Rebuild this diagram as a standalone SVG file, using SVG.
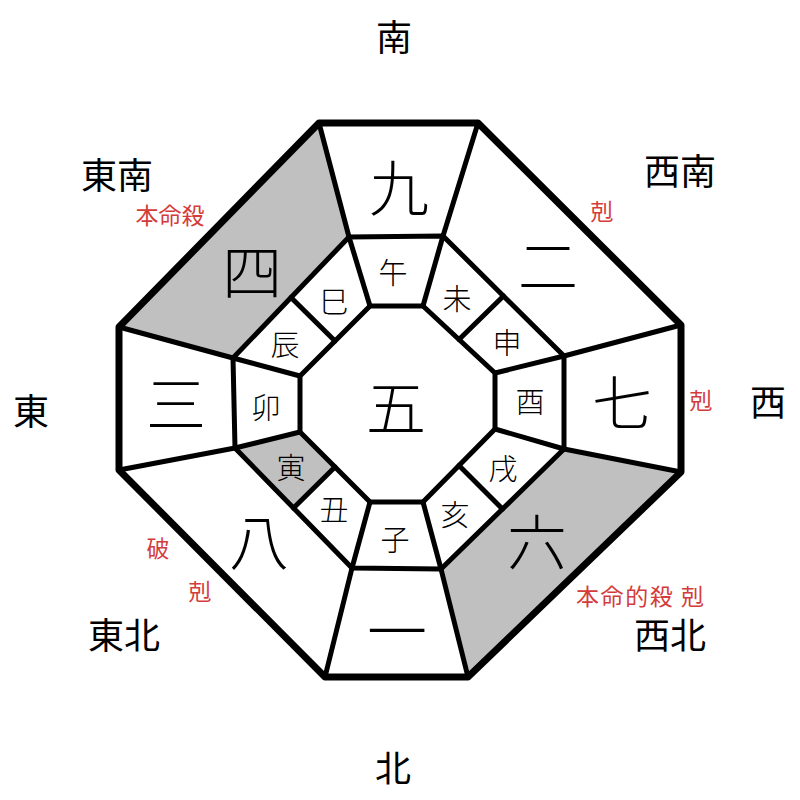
<svg xmlns="http://www.w3.org/2000/svg" width="800" height="800" viewBox="0 0 800 800">
<style>
text{font-family:"Noto Sans CJK JP","Noto Sans CJK SC",sans-serif;text-anchor:middle;dominant-baseline:central;fill:#000}
.big{font-size:60px;font-weight:300}
.br{font-size:29px;font-weight:300}
.dir{font-size:36px}
.red{font-size:23px;fill:#d43c3c}
.gray{fill:#c0c0c0;stroke:none}
.ln{stroke:#000;stroke-width:5;stroke-linecap:round;fill:none;stroke-linejoin:round}
.outer{stroke:#000;stroke-width:7;fill:none;stroke-linejoin:round}
</style>
<rect width="800" height="800" fill="#fff"/>
<g id="shading">
<polygon class="gray" points="319,123 349,237 233,358 119,327"/>
<polygon class="gray" points="681,472 564,449 441,569 468,677"/>
<polygon class="gray" points="235,448 300,432 335,467 293.5,508"/>
</g>
<g id="connectors">
<polygon class="ln" points="349,237 443,236 564,356 564,449 441,569 352,568 235,448 233,358"/>
<polygon class="ln" points="370,306 423,306 495,373 495,429 423,502 370,502 300,432 300,376"/>
<line class="ln" x1="319" y1="123" x2="349" y2="237"/>
<line class="ln" x1="478" y1="123" x2="443" y2="236"/>
<line class="ln" x1="681" y1="325" x2="564" y2="356"/>
<line class="ln" x1="681" y1="472" x2="564" y2="449"/>
<line class="ln" x1="468" y1="677" x2="441" y2="569"/>
<line class="ln" x1="325" y1="677" x2="352" y2="568"/>
<line class="ln" x1="119" y1="470" x2="235" y2="448"/>
<line class="ln" x1="119" y1="327" x2="233" y2="358"/>
<line class="ln" x1="349" y1="237" x2="370" y2="306"/>
<line class="ln" x1="443" y1="236" x2="423" y2="306"/>
<line class="ln" x1="564" y1="356" x2="495" y2="373"/>
<line class="ln" x1="564" y1="449" x2="495" y2="429"/>
<line class="ln" x1="441" y1="569" x2="423" y2="502"/>
<line class="ln" x1="352" y1="568" x2="370" y2="502"/>
<line class="ln" x1="235" y1="448" x2="300" y2="432"/>
<line class="ln" x1="233" y1="358" x2="300" y2="376"/>
<line class="ln" x1="503.5" y1="296" x2="459" y2="339.5"/>
<line class="ln" x1="502.5" y1="509" x2="459" y2="465.5"/>
<line class="ln" x1="293.5" y1="508" x2="335" y2="467"/>
<line class="ln" x1="291" y1="297.5" x2="335" y2="341"/>
<polygon class="outer" points="319,123 478,123 681,325 681,472 468,677 325,677 119,470 119,327"/>
</g>
<g id="n-9"><text class="big" x="399" y="184">九</text></g>
<g id="n-2"><text class="big" x="548" y="262">二</text></g>
<g id="n-7"><text class="big" x="622" y="399">七</text></g>
<g id="n-6"><text class="big" x="537" y="538">六</text></g>
<g id="n-1"><text class="big" x="397" y="627">一</text></g>
<g id="n-8"><text class="big" x="259" y="538">八</text></g>
<g id="n-3"><text class="big" x="176" y="400">三</text></g>
<g id="n-4"><text class="big" x="252" y="268">四</text></g>
<g id="n-5"><text class="big" x="396" y="404">五</text></g>
<g id="b-wu"><text class="br" x="393" y="271">午</text></g>
<g id="b-wei"><text class="br" x="457" y="297">未</text></g>
<g id="b-shen"><text class="br" x="507" y="341">申</text></g>
<g id="b-you"><text class="br" x="530" y="400">酉</text></g>
<g id="b-xu"><text class="br" x="503" y="467">戌</text></g>
<g id="b-hai"><text class="br" x="455" y="513">亥</text></g>
<g id="b-zi"><text class="br" x="395" y="538">子</text></g>
<g id="b-chou"><text class="br" x="334" y="508">丑</text></g>
<g id="b-yin"><text class="br" x="291" y="466">寅</text></g>
<g id="b-mao"><text class="br" x="266" y="406">卯</text></g>
<g id="b-chen"><text class="br" x="285" y="343">辰</text></g>
<g id="b-si"><text class="br" x="334" y="300">巳</text></g>
<g id="directions">
<text class="dir" x="394" y="35">南</text>
<text class="dir" x="680" y="169">西南</text>
<text class="dir" x="768" y="400">西</text>
<text class="dir" x="670" y="633">西北</text>
<text class="dir" x="393" y="766">北</text>
<text class="dir" x="124" y="633">東北</text>
<text class="dir" x="31" y="409">東</text>
<text class="dir" x="117" y="173">東南</text>
</g>
<g id="notes">
<text class="red" x="170" y="214">本命殺</text>
<text class="red" x="602" y="210">剋</text>
<text class="red" x="701" y="399">剋</text>
<text class="red" x="640" y="595" textLength="128" lengthAdjust="spacing">本命的殺 剋</text>
<text class="red" x="158" y="547">破</text>
<text class="red" x="200" y="590">剋</text>
</g>
</svg>
